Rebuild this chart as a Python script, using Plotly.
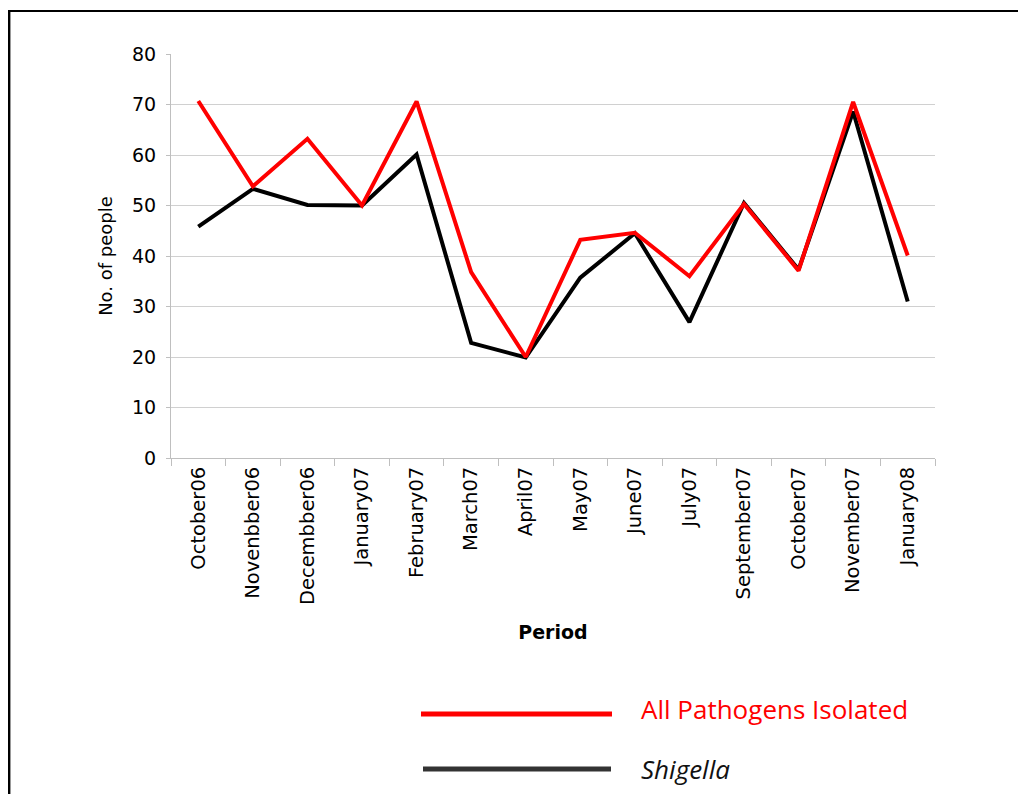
import plotly.graph_objects as go

periods = ["October06", "Novenbber06", "Decembber06", "January07", "February07",
           "March07", "April07", "May07", "June07", "July07", "September07",
           "October07", "November07", "January08"]
all_pathogens = [70.7, 53.8, 63.2, 50.0, 70.6, 36.8, 20.0, 43.2, 44.6, 36.0, 50.3, 37.1, 70.5, 40.1]
shigella = [45.8, 53.3, 50.1, 50.0, 60.1, 22.8, 19.9, 35.7, 44.5, 26.9, 50.5, 37.3, 68.6, 31.0]
y_ticks = [0, 10, 20, 30, 40, 50, 60, 70, 80]

OFF = 8  # page body margin
W, H = 1026 - OFF, 794 - OFF
# plot area in page pixels
L, R, T, B = 171, 935, 54, 458

def px(x):
    return (x - L) / (R - L)

def py(y):
    return (B - y) / (B - T)

fig = go.Figure()
fig.add_trace(go.Scatter(x=periods, y=shigella, mode="lines",
                         line=dict(color="#000000", width=4), name="Shigella"))
fig.add_trace(go.Scatter(x=periods, y=all_pathogens, mode="lines",
                         line=dict(color="#ff0000", width=4), name="All Pathogens Isolated"))

font_axis = "DejaVu Sans, Arial, sans-serif"
fig.update_layout(
    width=W, height=H,
    margin=dict(l=L - OFF, r=W - (R - OFF), t=T - OFF, b=H - (B - OFF), pad=0),
    paper_bgcolor="white", plot_bgcolor="white",
    showlegend=False,
    font=dict(family=font_axis, color="black"),
    xaxis=dict(
        type="category", tickangle=-90, tickson="boundaries",
        ticks="outside", ticklen=7, tickcolor="#bfbfbf",
        showline=True, linecolor="#bfbfbf", linewidth=1,
        showgrid=False, tickfont=dict(size=19.5, family=font_axis),
        title=dict(text="<b>Period</b>", font=dict(size=19, family=font_axis), standoff=21),
        range=[-0.5, len(periods) - 0.5],
    ),
    yaxis=dict(
        range=[0, 80], tickvals=y_ticks, ticks="outside", ticklen=4, tickcolor="#bfbfbf",
        ticklabelstandoff=6,
        showline=True, linecolor="#bfbfbf", linewidth=1,
        showgrid=True, gridcolor="#d0d0d0", gridwidth=1, zeroline=False,
        tickfont=dict(size=19, family=font_axis),
        title=dict(text="No. of people", font=dict(size=18, family=font_axis), standoff=14),
    ),
)

# frame lines (left edge sits at the very edge of the figure)
fig.add_shape(type="line", xref="paper", yref="paper",
              x0=px(OFF), x1=px(1030), y0=py(11), y1=py(11),
              line=dict(color="black", width=2))
fig.add_shape(type="line", xref="paper", yref="paper",
              x0=px(OFF + 1.2), x1=px(OFF + 1.2), y0=py(10), y1=py(800),
              line=dict(color="black", width=2.4))

# legend
fig.add_shape(type="line", xref="paper", yref="paper",
              x0=px(421), x1=px(612), y0=py(714), y1=py(714),
              line=dict(color="#ff0000", width=5))
fig.add_shape(type="line", xref="paper", yref="paper",
              x0=px(423), x1=px(611), y0=py(769), y1=py(769),
              line=dict(color="#333333", width=5))
fig.add_annotation(xref="paper", yref="paper", x=px(639), y=py(709),
                   text="All Pathogens Isolated", showarrow=False,
                   xanchor="left", yanchor="middle",
                   font=dict(family="Open Sans, Noto Sans, sans-serif", size=26, color="#ff0000"))
fig.add_annotation(xref="paper", yref="paper", x=px(639), y=py(769),
                   text="<i>Shigella</i>", showarrow=False,
                   xanchor="left", yanchor="middle",
                   font=dict(family="Open Sans, Noto Sans, sans-serif", size=26, color="#111111"))

fig.write_html("out.html")
